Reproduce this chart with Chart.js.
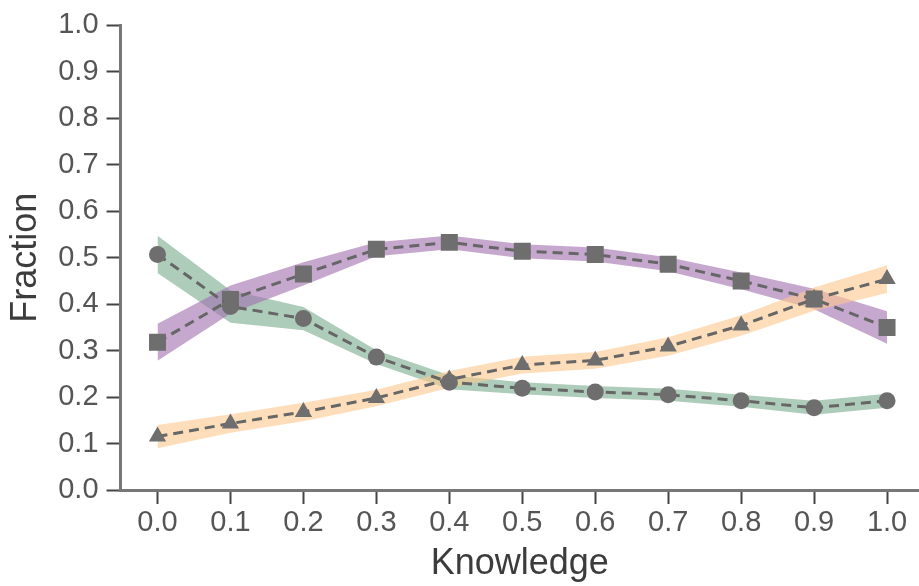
<!DOCTYPE html>
<html>
<head>
<meta charset="utf-8">
<script src="https://cdn.jsdelivr.net/npm/chart.js@4/dist/chart.umd.min.js"></script>
<style>
  html, body { margin: 0; padding: 0; background: #ffffff; }
  #wrap { width: 919px; height: 586px; }
</style>
</head>
<body>
<div id="wrap"><canvas id="c" width="919" height="586"></canvas></div>
<script>
const categories = ["0.0","0.1","0.2","0.3","0.4","0.5","0.6","0.7","0.8","0.9","1.0"];
const yTicks = [0.0,0.1,0.2,0.3,0.4,0.5,0.6,0.7,0.8,0.9,1.0];

const greenMean  = [0.507, 0.395, 0.369, 0.286, 0.232, 0.219, 0.211, 0.205, 0.192, 0.177, 0.192];
const greenLow   = [0.467, 0.360, 0.344, 0.271, 0.217, 0.206, 0.198, 0.192, 0.179, 0.162, 0.177];
const greenHigh  = [0.547, 0.430, 0.394, 0.301, 0.247, 0.232, 0.224, 0.218, 0.205, 0.192, 0.207];

const purpleMean = [0.318, 0.410, 0.465, 0.518, 0.533, 0.514, 0.507, 0.486, 0.450, 0.411, 0.350];
const purpleLow  = [0.278, 0.380, 0.440, 0.503, 0.518, 0.499, 0.492, 0.471, 0.432, 0.389, 0.315];
const purpleHigh = [0.358, 0.440, 0.490, 0.533, 0.548, 0.529, 0.522, 0.501, 0.468, 0.433, 0.385];

const orangeMean = [0.115, 0.143, 0.168, 0.198, 0.238, 0.269, 0.279, 0.309, 0.354, 0.411, 0.454];
const orangeLow  = [0.090, 0.123, 0.148, 0.180, 0.220, 0.251, 0.261, 0.289, 0.332, 0.386, 0.424];
const orangeHigh = [0.140, 0.163, 0.188, 0.216, 0.256, 0.287, 0.297, 0.329, 0.376, 0.436, 0.484];

const xValues = categories.map(Number);
const pts = (arr) => arr.map((y, i) => ({ x: xValues[i], y }));

const greenBand  = 'rgba(120,170,140,0.6)';
const purpleBand = 'rgba(160,110,175,0.6)';
const orangeBand = 'rgba(253,200,140,0.6)';
const lineGray = '#666666';
const markGray = '#6e6e6e';
const tickText = '#555555';
const titleText = '#3c3c3c';
const FONT = 'Liberation Sans, Arial, sans-serif';

function band(data, color, fillTarget, order) {
  return { data: pts(data), borderWidth: 0, pointRadius: 0, pointHoverRadius: 0, backgroundColor: color,
           fill: fillTarget, tension: 0, order };
}
function line(data, style, radius) {
  return { data: pts(data), borderColor: lineGray, borderWidth: 3, borderDash: [10, 6], fill: false,
           pointStyle: style, pointRadius: radius, pointBackgroundColor: markGray,
           pointBorderColor: markGray, pointBorderWidth: 0, tension: 0, order: 0 };
}

new Chart(document.getElementById('c'), {
  type: 'line',
  data: {
    datasets: [
      band(greenHigh, greenBand, '+1', 3), band(greenLow, greenBand, false, 3),
      band(purpleHigh, purpleBand, '+1', 2), band(purpleLow, purpleBand, false, 2),
      band(orangeHigh, orangeBand, '+1', 1), band(orangeLow, orangeBand, false, 1),
      line(greenMean, 'circle', 8.5),
      line(purpleMean, 'rect', 12),
      line(orangeMean, 'triangle', 10)
    ]
  },
  options: {
    responsive: false,
    animation: false,
    layout: { autoPadding: false, padding: { top: 22, right: 0, left: 0, bottom: 0 } },
    plugins: { legend: { display: false }, tooltip: { enabled: false } },
    scales: {
      x: {
        type: 'linear',
        min: -0.0507, max: 1.0438,
        afterBuildTicks: (s) => { s.ticks = xValues.map(v => ({ value: v })); },
        grid: { drawOnChartArea: false, tickLength: 14, tickColor: '#444', tickWidth: 2 },
        border: { display: true, color: '#777777', width: 3 },
        ticks: { color: tickText, font: { family: FONT, size: 29 }, padding: 2, maxRotation: 0,
                 callback: (v) => Number(v).toFixed(1) },
        title: { display: true, text: 'Knowledge', color: titleText, font: { family: FONT, size: 36 }, padding: { top: 0, bottom: 0 } }
      },
      y: {
        min: 0, max: 1,
        afterBuildTicks: (s) => { s.ticks = yTicks.map(v => ({ value: v })); },
        grid: { drawOnChartArea: false, tickLength: 14, tickColor: '#444', tickWidth: 2 },
        border: { display: true, color: '#777777', width: 3 },
        ticks: { color: tickText, font: { family: FONT, size: 29 }, padding: 8,
                 callback: (v) => Number(v).toFixed(1) },
        title: { display: true, text: 'Fraction', color: titleText, font: { family: FONT, size: 36 }, padding: { top: 4, bottom: 3 } }
      }
    }
  }
});
</script>
</body>
</html>
